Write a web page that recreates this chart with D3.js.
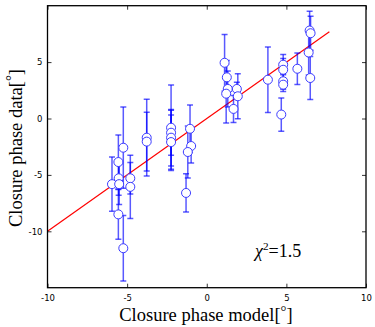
<!DOCTYPE html>
<html>
<head>
<meta charset="utf-8">
<script src="https://cdn.jsdelivr.net/npm/d3@7/dist/d3.min.js"></script>
<style>
  html, body { margin: 0; padding: 0; background: #fff; }
  svg { display: block; }
</style>
</head>
<body>
<svg id="chart" width="375" height="327"></svg>
<script>
// ---- data ----
const modelPhase = [-5.24, -5.55, -5.95, -5.53, -5.5, -4.8, -4.8, -5.55, -5.24,
  -3.77, -3.77, -2.24, -2.24, -2.24, -2.24, -1.05, -0.98, -1.19, -1.3,
  1.12, 1.26, 1.32, 1.22, 1.68, 1.89, 1.95, 3.84, 4.68, 4.8, 4.8, 4.8, 4.8,
  5.69, 6.46, 6.52, 6.4, 6.5];
const dataPhase = [-2.59, -3.86, -5.82, -5.3, -5.82, -5.3, -6.06, -8.5, -11.5,
  -1.7, -2.05, -0.82, -1.26, -1.7, -2.09, -0.91, -2.44, -2.97, -6.6,
  4.94, 3.65, 2.62, 2.2, 0.85, 2.62, 1.97, 3.44, 0.35, 4.77, 4.32, 3.3, 3.0,
  4.41, 7.8, 7.56, 5.85, 3.59];
const phaseError = [3.6, 2.4, 2.4, 1.5, 1.8, 1.4, 2.8, 2.2, 2.9,
  3.4, 2.6, 3.8, 2.0, 2.5, 2.4, 2.1, 1.5, 2.3, 1.7,
  2.5, 1.5, 1.6, 2.6, 1.2, 0.6, 2.0, 2.9, 1.47, 0.9, 1.0, 0.7, 0.6,
  1.4, 1.7, 1.5, 2.0, 1.9];
const fitX = [-10, 7.7];
const fitY = [-10, 7.7];
const xTicks = [-10, -5, 0, 5, 10];
const yTicks = [-10, -5, 0, 5];
const chiLabel = "=1.5";

// ---- layout ----
const svg = d3.select("#chart");
const pL = 47.5, pR = 366, pT = 5.7, pB = 287.7;
const x = d3.scaleLinear().domain([-10, 10]).range([pL, pR]);
const y = d3.scaleLinear().domain([-15, 10]).range([pB, pT]);

svg.append("defs").append("clipPath").attr("id", "clip")
  .append("rect").attr("x", pL).attr("y", pT)
  .attr("width", pR - pL).attr("height", pB - pT);

const plot = svg.append("g").attr("clip-path", "url(#clip)");

// fit line
plot.append("path")
  .datum(fitX.map((v, i) => [v, fitY[i]]))
  .attr("d", d3.line().x(d => x(d[0])).y(d => y(d[1])))
  .attr("stroke", "#ff0000").attr("stroke-width", 1.2).attr("fill", "none");

// error bars
const pts = modelPhase.map((v, i) => ({ x: v, y: dataPhase[i], e: phaseError[i] }));
const eb = plot.append("g").attr("stroke", "#0000ff").attr("stroke-opacity", 0.65)
  .attr("stroke-width", 1.5);
pts.forEach(p => {
  const cx = x(p.x), y1 = y(p.y + p.e), y2 = y(p.y - p.e);
  eb.append("line").attr("x1", cx).attr("x2", cx).attr("y1", y1).attr("y2", y2);
  eb.append("line").attr("x1", cx - 3).attr("x2", cx + 3).attr("y1", y1).attr("y2", y1);
  eb.append("line").attr("x1", cx - 3).attr("x2", cx + 3).attr("y1", y2).attr("y2", y2);
});

// markers
plot.append("g").selectAll("circle").data(pts).join("circle")
  .attr("cx", d => x(d.x)).attr("cy", d => y(d.y)).attr("r", 4.5)
  .attr("fill", "#fff").attr("stroke", "#3b3bff").attr("stroke-width", 1);

// axes (inward ticks on all sides)
const tickLen = 4;
const fontTick = "'DejaVu Sans', sans-serif";
const fmt = d => String(d);
const axB = svg.append("g").attr("transform", `translate(0,${pB})`)
  .call(d3.axisBottom(x).tickValues(xTicks).tickSizeInner(-tickLen).tickSizeOuter(0).tickPadding(7).tickFormat(fmt));
const axT = svg.append("g").attr("transform", `translate(0,${pT})`)
  .call(d3.axisTop(x).tickValues(xTicks).tickSizeInner(-tickLen).tickSizeOuter(0).tickFormat(""));
const axL = svg.append("g").attr("transform", `translate(${pL},0)`)
  .call(d3.axisLeft(y).tickValues(yTicks).tickSizeInner(-tickLen).tickSizeOuter(0).tickPadding(5).tickFormat(fmt));
const axR = svg.append("g").attr("transform", `translate(${pR},0)`)
  .call(d3.axisRight(y).tickValues(yTicks).tickSizeInner(-tickLen).tickSizeOuter(0).tickFormat(""));
[axB, axT, axL, axR].forEach(a => {
  a.select(".domain").remove();
  a.selectAll(".tick line").attr("stroke", "#000").attr("stroke-width", 0.8);
  a.selectAll("text").attr("font-family", fontTick).attr("font-size", 8.5).attr("fill", "#000");
});

// frame
svg.append("rect").attr("x", pL).attr("y", pT)
  .attr("width", pR - pL).attr("height", pB - pT)
  .attr("fill", "none").attr("stroke", "#000").attr("stroke-width", 1.3);

// axis labels
const serif = "'Liberation Serif', 'Times New Roman', serif";
function degLabel(sel, base) {
  sel.append("tspan").text(base + "[");
  sel.append("tspan").attr("font-size", "0.8em").attr("dy", "-0.35em").text("\u00B0");
  sel.append("tspan").attr("dy", "0.28em").text("]");
}
const xl = svg.append("text").attr("x", 206).attr("y", 321)
  .attr("text-anchor", "middle").attr("font-family", serif).attr("font-size", 18.5);
degLabel(xl, "Closure phase model");
const yl = svg.append("text").attr("transform", "translate(21.5,148) rotate(-90)")
  .attr("text-anchor", "middle").attr("font-family", serif).attr("font-size", 18.5);
degLabel(yl, "Closure phase data");

// chi-square annotation
const chi = svg.append("text").attr("x", 255).attr("y", 257)
  .attr("font-family", serif).attr("font-size", 18);
chi.append("tspan").attr("font-style", "italic").text("\u03C7");
chi.append("tspan").attr("font-size", "0.62em").attr("dy", "-0.6em").text("2");
chi.append("tspan").attr("dy", "0.37em").text(chiLabel);
</script>
</body>
</html>
